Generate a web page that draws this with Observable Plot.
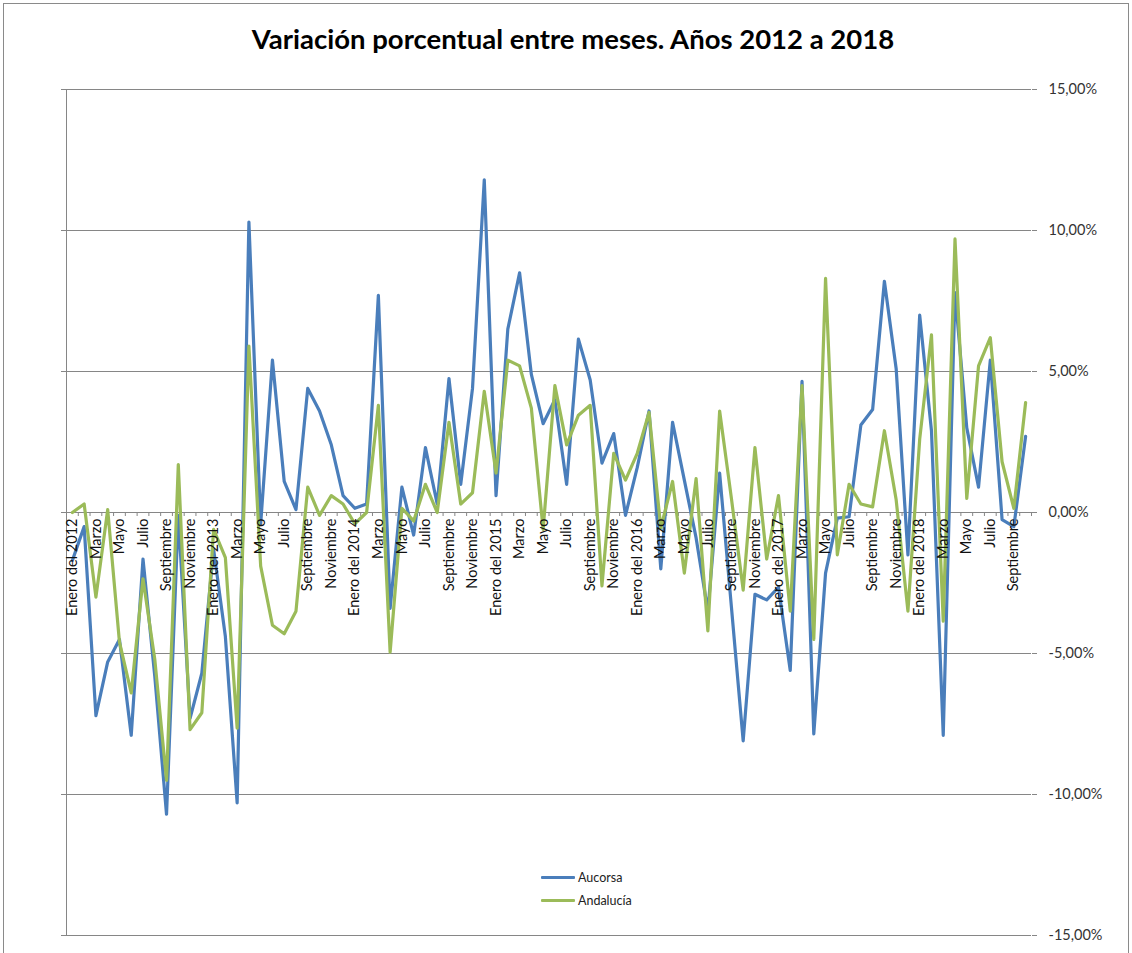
<!DOCTYPE html>
<html>
<head>
<meta charset="utf-8">
<script src="https://cdn.jsdelivr.net/npm/d3@7"></script>
<script src="https://cdn.jsdelivr.net/npm/@observablehq/plot@0.6"></script>
<style>
  html, body { margin: 0; padding: 0; background: #fff; }
  #wrap { position: relative; width: 1132px; height: 953px; overflow: hidden; background: #fff; font-family: Lato, "Open Sans", sans-serif; }
  #frame { position: absolute; left: 3px; top: 3px; width: 1124px; height: 960px; border: 1px solid #8a8a8a; z-index: 5; pointer-events: none; }
  #title { position: absolute; left: 14px; top: 22px; width: 1118px; text-align: center; font-size: 27.5px; font-weight: bold; color: #000; line-height: 34px; }
  #chart { position: absolute; left: 0; top: 70px; }
  #chart svg { background: transparent !important; }
  #legend { position: absolute; left: 541px; top: 866px; font-size: 12.5px; color: #222; }
  .item { display: flex; align-items: center; height: 23px; }
  .swatch { width: 34px; height: 3px; margin-right: 3px; border-radius: 1px; }
</style>
</head>
<body>
<div id="wrap">
  <div id="title">Variación porcentual entre meses. Años 2012 a 2018</div>
  <div id="chart"></div>
  <div id="legend"></div>
  <div id="frame"></div>
</div>
<script>
// Monthly % variation, January 2012 to October 2018
const aucorsa = [
  -1.7, -0.5, -7.2, -5.3, -4.5, -7.9, -1.65, -5.8, -10.7, -0.1, -7.3, -5.7,
  -1.3, -4.4, -10.3, 10.3, -0.4, 5.4, 1.1, 0.1, 4.4, 3.6, 2.4, 0.6,
  0.15, 0.3, 7.7, -3.4, 0.9, -0.8, 2.3, 0.3, 4.75, 1.0, 4.4, 11.8,
  0.6, 6.5, 8.5, 4.9, 3.15, 4.0, 1.0, 6.15, 4.7, 1.75, 2.8, -0.1,
  1.6, 3.6, -2.0, 3.2, 1.15, -0.9, -3.5, 1.4, -3.35, -8.1, -2.9, -3.1,
  -2.65, -5.6, 4.65, -7.85, -2.15, -0.2, -0.15, 3.1, 3.65, 8.2, 5.1, -1.5,
  7.0, 2.9, -7.9, 7.8, 3.0, 0.9, 5.4, -0.25, -0.5, 2.7
];
const andalucia = [
  0.0, 0.3, -3.0, 0.1, -4.6, -6.4, -2.35, -5.2, -9.5, 1.7, -7.7, -7.1,
  -0.6, -1.6, -7.65, 5.9, -1.9, -4.0, -4.3, -3.5, 0.9, -0.1, 0.6, 0.3,
  -0.4, 0.0, 3.8, -4.95, 0.15, -0.3, 1.0, 0.0, 3.2, 0.3, 0.7, 4.3,
  1.4, 5.4, 5.2, 3.7, -0.6, 4.5, 2.4, 3.45, 3.8, -2.6, 2.1, 1.15,
  2.1, 3.55, -0.55, 1.1, -2.15, 1.2, -4.2, 3.6, 0.5, -2.75, 2.3, -1.65,
  0.6, -3.5, 4.5, -4.5, 8.3, -1.5, 1.0, 0.3, 0.2, 2.9, 0.45, -3.5,
  2.6, 6.3, -3.85, 9.7, 0.5, 5.2, 6.2, 1.8, 0.15, 3.9
];
const monthNames = ["Enero","Febrero","Marzo","Abril","Mayo","Junio","Julio","Agosto","Septiembre","Octubre","Noviembre","Diciembre"];
const startYear = 2012;
const yTicks = [-15, -10, -5, 0, 5, 10, 15];
const seriesNames = ["Aucorsa", "Andalucía"];
const seriesColors = ["#4A7EBB", "#9BBB59"];

const n = aucorsa.length;
const labelIdx = d3.range(0, n, 2);
const labelText = i => {
  const m = i % 12, y = startYear + Math.floor(i / 12);
  return m === 0 ? `Enero del ${y}` : monthNames[m];
};
const bounds = d3.range(n + 1).map(k => k - 0.5);
const gray = "#868686";
const fmt = d => d.toFixed(2).replace(".", ",") + "%";

const chart = Plot.plot({
  width: 1132,
  height: 883,
  marginTop: 19,
  marginBottom: 18,
  marginLeft: 66,
  marginRight: 101,
  style: { fontFamily: "Lato, 'Open Sans', sans-serif", background: "transparent", color: "#222" },
  x: { type: "linear", domain: [-0.5, n - 0.5], axis: null },
  y: { domain: [-15, 15], axis: null },
  marks: [
    Plot.gridY(yTicks, { stroke: gray, strokeOpacity: 1, strokeWidth: 1 }),
    Plot.axisY(yTicks, { anchor: "right", tickSize: 5, tickPadding: 12, tickFormat: fmt, stroke: gray, fill: "#333", fontSize: 14.5, label: null }),
    Plot.axisY(yTicks, { anchor: "left", tickSize: 5, tickFormat: () => "", stroke: gray, label: null }),
    Plot.ruleX([-0.5], { stroke: gray, strokeWidth: 1 }),
    Plot.ruleX(bounds, { x: d => d, y1: 0, y2: 0, insetBottom: -4, stroke: gray }),
    Plot.lineY(aucorsa, { x: (d, i) => i, y: d => d, stroke: seriesColors[0], strokeWidth: 3.2, strokeLinejoin: "round" }),
    Plot.lineY(andalucia, { x: (d, i) => i, y: d => d, stroke: seriesColors[1], strokeWidth: 3.2, strokeLinejoin: "round" }),
    Plot.text(labelIdx, { x: d => d, y: 0, text: labelText, rotate: -90, textAnchor: "end", lineAnchor: "middle", dy: 6, fontSize: 14.5, fill: "#111" })
  ]
});
document.getElementById("chart").appendChild(chart);

const legend = document.getElementById("legend");
seriesNames.forEach((name, k) => {
  const row = document.createElement("div");
  row.className = "item";
  row.innerHTML = `<span class="swatch" style="background:${seriesColors[k]}"></span><span>${name}</span>`;
  legend.appendChild(row);
});
</script>
</body>
</html>
